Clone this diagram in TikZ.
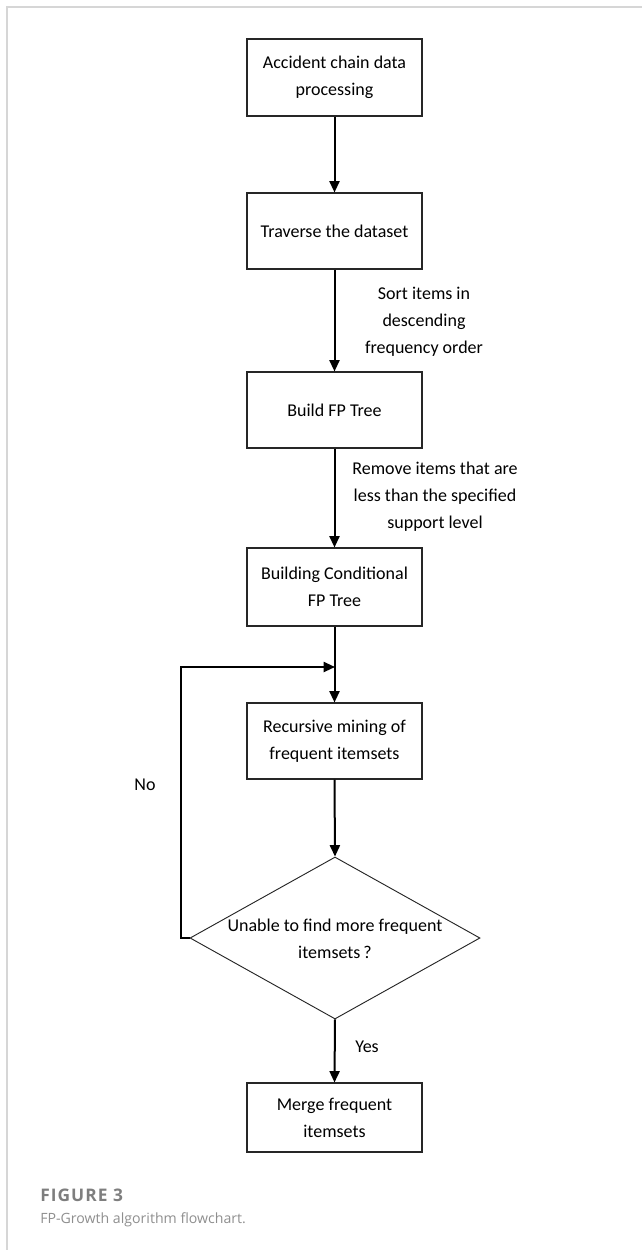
\documentclass[tikz,border=0pt]{standalone}
\usepackage{fontspec}
\setmainfont{Carlito}
\newfontfamily\capfont{Open Sans}
\newfontfamily\capfontsp[LetterSpace=6]{Open Sans}
\usetikzlibrary{arrows.meta,shapes.geometric}
\definecolor{framegray}{HTML}{D6D6D6}
\definecolor{capgray}{HTML}{7E7E7E}
\definecolor{capgraylight}{HTML}{8E8E8E}
\tikzset{
  stepbox/.style={draw=black!85, line width=0.8pt, minimum width=131.25pt, inner sep=0pt, align=center, font=\fontsize{13.5}{20.25}\selectfont},
  decision/.style={diamond, draw=black!85, line width=0.7pt, minimum width=217.5pt, minimum height=121.5pt, inner sep=0pt},
  flowtext/.style={align=center, font=\fontsize{13.5}{20.25}\selectfont, inner sep=0pt},
  flowarrow/.style={-{Triangle[length=8.5pt,width=7.5pt]}, line width=1.5pt, black},
  frameline/.style={draw=framegray, line width=1.1pt}
}
\begin{document}
\begin{tikzpicture}[x=0.75pt,y=-0.75pt]
\useasboundingbox (0,0) rectangle (642,1250);
% frame
\draw[frameline] (7,1250) -- (7,7) -- (642,7);
% boxes
\node[stepbox, minimum height=57.75pt] (b1) at (334.5,77.5) {Accident chain data\\processing};
\node[stepbox, minimum height=57pt] (b2) at (334.5,231) {Traverse the dataset};
\node[stepbox, minimum height=57pt] (b3) at (334.5,410) {Build FP Tree};
\node[stepbox, minimum height=58.5pt] (b4) at (334.5,587) {Building Conditional\\FP Tree};
\node[stepbox, minimum height=57pt] (b5) at (334.5,741) {Recursive mining of\\frequent itemsets};
\node[decision] (d) at (335,938) {};
\node[flowtext] (dt) at (335,938.5) {Unable to find more frequent\\itemsets\,?};
\node[stepbox, minimum height=51.75pt] (b6) at (334.5,1117.5) {Merge frequent\\itemsets};
% labels
\node[flowtext] (l1) at (424,322) {Sort items in\\descending\\frequency order};
\node[flowtext] (l2) at (435,497) {Remove items that are\\less than the specified\\support level};
\node[flowtext] (no) at (145,785) {No};
\node[flowtext] (yes) at (367,1047) {Yes};
% connectors
\coordinate (j) at (335,667);
\draw[flowarrow] (b1.south) -- (b2.north);
\draw[flowarrow] (b2.south) -- (b3.north);
\draw[flowarrow] (b3.south) -- (b4.north);
\draw[flowarrow] (b4.south) -- (b5.north);
\draw[flowarrow] (b5.south) -- (d.north);
\draw[flowarrow] (d.south) -- (b6.north);
\draw[flowarrow] (d.west) -- (181,938) -- (181,667) -- (j);
% caption
\node[anchor=base west, inner sep=0pt, text=capgray, font=\capfontsp\bfseries\fontsize{13}{15}\selectfont] (fig) at (40,1201) {FIGURE 3};
\node[anchor=base west, inner sep=0pt, text=capgraylight, font=\capfont\fontsize{10.6}{13}\selectfont] (cap) at (40,1223) {FP-Growth algorithm flowchart.};
\end{tikzpicture}
\end{document}
